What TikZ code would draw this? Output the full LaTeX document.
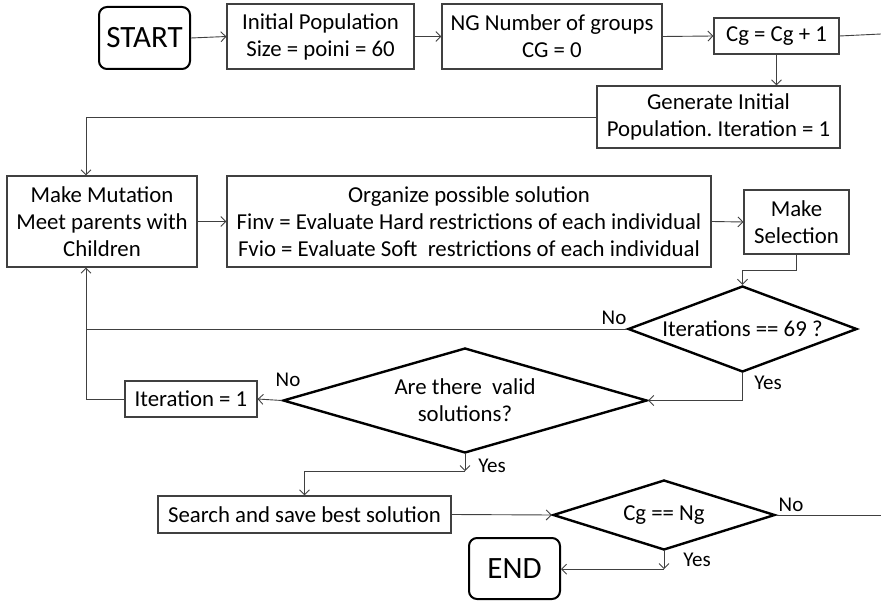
\documentclass[tikz,border=0pt]{standalone}
\usepackage{fontspec}
\setmainfont{Carlito}
\frenchspacing
\usetikzlibrary{arrows.meta,shapes.geometric,calc}
\definecolor{lineg}{HTML}{404040}
\tikzset{
  box/.style={draw=lineg, line width=1.1pt, inner sep=0pt, align=center, text=black, font=\fontsize{22.8}{27}\selectfont},
  term/.style={draw=black, line width=2pt, rounded corners=8pt, inner sep=0pt, font=\fontsize{31}{33}\selectfont},
  dec/.style={draw=black, line width=2.4pt, shape=diamond, inner sep=0pt, align=center, font=\fontsize{22.8}{27}\selectfont},
  conn/.style={draw=lineg, line width=0.9pt},
  arr/.style={conn, -{Straight Barb[length=5pt,width=10pt]}},
  lab/.style={font=\fontsize{21}{24}\selectfont, inner sep=0pt}
}
\begin{document}
\begin{tikzpicture}[x=1pt,y=-1pt]
\useasboundingbox (0,0) rectangle (881,601);
\coordinate (loopx) at (86,0);
\node[term, minimum width=91pt, minimum height=62pt] (start) at (144.5,38) {START};
\node[box, minimum width=187pt, minimum height=65pt] (init) at (320.5,36.5) {Initial Population\\ Size = poini = 60};
\node[box, minimum width=220pt, minimum height=65pt] (ng) at (552,36.5) {NG Number of groups\\ CG = 0};
\node[box, minimum width=125pt, minimum height=36pt] (cg) at (776.5,36) {Cg = Cg + 1};
\coordinate (cgout) at (881,34);
\node[box, minimum width=243pt, minimum height=62pt] (gen) at (718.5,117) {Generate Initial\\ Population. Iteration = 1};
\node[box, minimum width=190pt, minimum height=91pt] (mm) at (102,221.5) {Make Mutation\\ Meet parents with\\ Children};
\node[box, minimum width=484pt, minimum height=91pt] (org) at (469,221.5) {Organize possible solution\\ Finv = Evaluate Hard restrictions of each individual\\ Fvio = Evaluate Soft~ restrictions of each individual};
\node[box, minimum width=105pt, minimum height=64pt] (sel) at (796.5,222) {Make\\ Selection};
\node[dec, minimum width=229pt, minimum height=86pt, aspect=2.66] (iter) at (742.5,329) {Iterations == 69 ?};
\node[dec, minimum width=364pt, minimum height=105pt, aspect=3.47] (valid) at (465,400.5) {Are there~ valid\\ solutions?};
\node[box, minimum width=132pt, minimum height=36pt] (it1) at (191,399) {Iteration = 1};
\node[box, minimum width=293pt, minimum height=37pt] (search) at (304.5,514.5) {Search and save best solution};
\node[dec, minimum width=222pt, minimum height=70pt, aspect=3.17] (cgng) at (664,515) {Cg == Ng};
\node[term, minimum width=91pt, minimum height=61pt] (end) at (514.5,568.5) {END};
\coordinate (cgngout) at (881,515);

\draw[arr] (start.east) -- (init.west);
\draw[arr] (init.east) -- (ng.west);
\draw[arr] (ng.east) -- (cg.west);
\draw[conn] (cg.east) -- (cgout);
\draw[arr] (cg.south) -- (cg.south|-gen.north);
\draw[arr] (gen.west) -| (mm.north -| loopx);
\draw[arr] (mm.east) -- (org.west);
\draw[arr] (org.east) -- (sel.west);
\draw[arr] (sel.south) -- ++(0,16) -| (iter.north);
\draw[arr] (iter.west) -| (mm.south -| loopx);
\draw[arr] (iter.south) |- (valid.east);
\draw[arr] (valid.west) -- (it1.east);
\draw[conn] (it1.west) -| (loopx |- iter.west);
\draw[arr] (valid.south) -- ++(0,17) coordinate (vbend);
\draw[arr] (vbend) -| (search.north);
\draw[arr] (search.east) -- (cgng.west);
\draw[conn] (cgng.east) -- (cgngout);
\draw[arr] (cgng.south) -- ++(0,18) coordinate (cbend);
\draw[arr] (cbend) -- (cbend -| end.east);

\node[lab] (no1) at (614,318) {No};
\node[lab] (yes1) at (768,383) {Yes};
\node[lab] (no2) at (288,380) {No};
\node[lab] (yes2) at (492,466) {Yes};
\node[lab] (no3) at (791,505) {No};
\node[lab] (yes3) at (697,560) {Yes};
\end{tikzpicture}
\end{document}
